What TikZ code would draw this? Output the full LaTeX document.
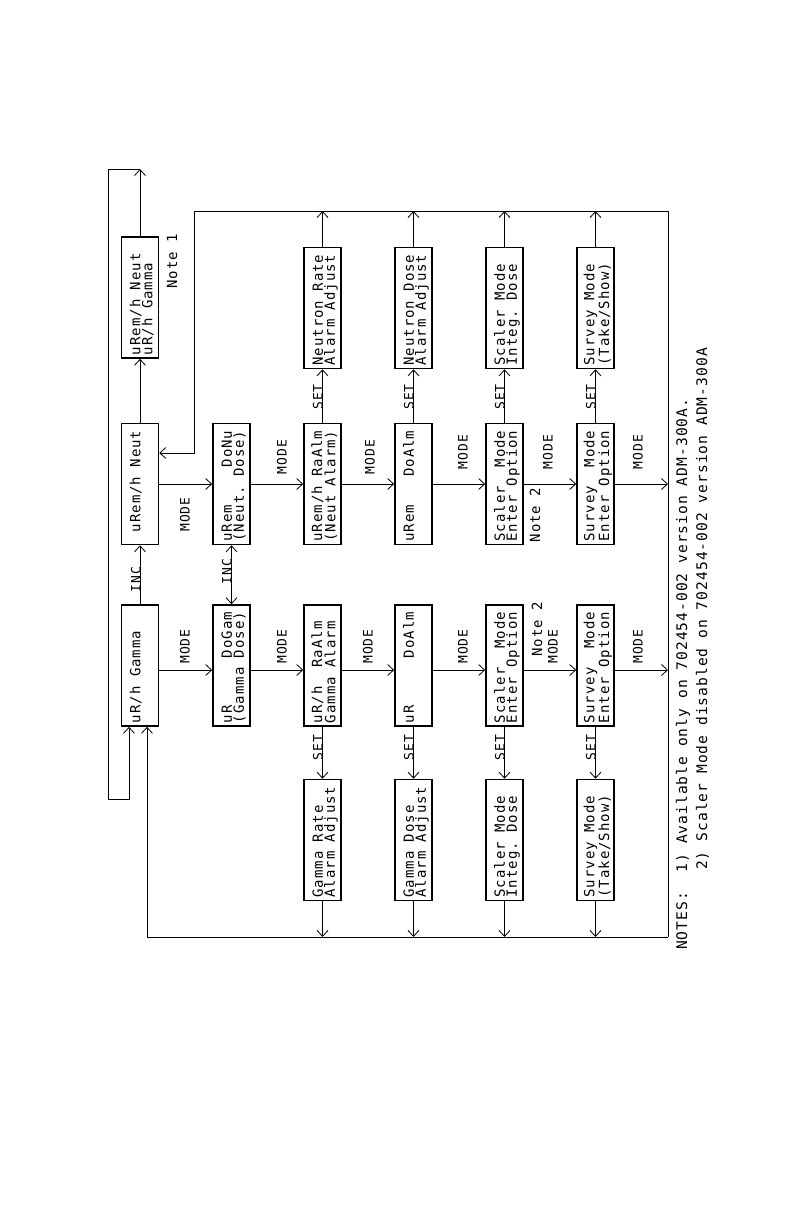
\documentclass[tikz,border=0pt]{standalone}
\usepackage{fontspec}
\newfontfamily\dmono[LetterSpace=7]{DejaVu Sans Mono}
\usetikzlibrary{arrows.meta}
\newcommand\lsa{\rule{0pt}{16.5pt}}
\newcommand\lsb{\rule[-4pt]{0pt}{4pt}}
\newcommand\sk{\kern0.672em\relax}
\newcommand\dl[2]{\lineskiplimit=-50pt\relax\lsa #1\\\lsb #2}
\newcommand\setws{\fontdimen2\font=0.672em\fontdimen3\font=0pt\fontdimen4\font=0pt\relax}
\begin{document}
\begin{tikzpicture}[x=1pt,y=1pt,
  dbox/.style={draw, line width=1.6pt, rotate=90, minimum width=121pt, minimum height=37pt, inner sep=0pt, text width=115pt, align=left, font=\dmono\fontsize{14}{12}\selectfont\setws},
  conn/.style={line width=0.8pt},
  arr/.style={conn, -{Straight Barb[length=6pt,width=11pt]}},
  darr/.style={conn, {Straight Barb[length=6pt,width=11pt]}-{Straight Barb[length=6pt,width=11pt]}},
  lab/.style={rotate=90, inner sep=0pt, font=\dmono\fontsize{13}{13}\selectfont\setws},
  notelab/.style={rotate=90, inner sep=0pt, font=\dmono\fontsize{14}{14}\selectfont\setws},
  ftn/.style={rotate=90, inner sep=0pt, anchor=base west, font=\dmono\fontsize{14.6}{14.6}\selectfont\setws},
]
\fill[white] (0,0) rectangle (792,-1224);
\useasboundingbox (0,0) rectangle (792,-1224);

% boxes
\node[dbox] (T1) at (140,-297.5) {\dl{uRem/h\sk Neut}{uR/h\sk Gamma}};
\node[dbox] (N1) at (140,-484) {\dl{\sk uRem/h\sk Neut}{}};
\node[dbox] (G1) at (140,-665.5) {\dl{uR/h\sk Gamma}{}};
\node[dbox] (N2) at (231.5,-484) {\dl{uRem\sk\sk\sk\sk DoNu}{(Neut.\sk Dose)}};
\node[dbox] (G2) at (231.5,-665.5) {\dl{uR\sk\sk\sk\sk\sk DoGam}{(Gamma\sk Dose)}};
\node[dbox] (N3) at (322.5,-484) {\dl{uRem/h\sk RaAlm}{(Neut\sk Alarm)}};
\node[dbox] (G3) at (322.5,-665.5) {\dl{uR/h\sk\sk RaAlm}{Gamma\sk Alarm}};
\node[dbox] (N4) at (413.5,-484) {\dl{uRem\sk\sk\sk DoAlm}{}};
\node[dbox] (G4) at (413.5,-665.5) {\dl{uR\sk\sk\sk\sk\sk DoAlm}{}};
\node[dbox] (N5) at (504.5,-484) {\dl{Scaler\sk\sk Mode}{Enter\sk Option}};
\node[dbox] (G5) at (504.5,-665.5) {\dl{Scaler\sk\sk Mode}{Enter\sk Option}};
\node[dbox] (N6) at (595.5,-484) {\dl{Survey\sk\sk Mode}{Enter\sk Option}};
\node[dbox] (G6) at (595.5,-665.5) {\dl{Survey\sk\sk Mode}{Enter\sk Option}};
\node[dbox] (NA3) at (322.5,-308) {\dl{Neutron\sk Rate}{Alarm\sk Adjust}};
\node[dbox] (NA4) at (413.5,-308) {\dl{Neutron\sk Dose}{Alarm\sk Adjust}};
\node[dbox] (NA5) at (504.5,-308) {\dl{Scaler\sk Mode}{Integ.\sk Dose}};
\node[dbox] (NA6) at (595.5,-308) {\dl{Survey\sk Mode}{(Take/Show)}};
\node[dbox] (GA3) at (322.5,-840) {\dl{Gamma\sk Rate}{Alarm\sk Adjust}};
\node[dbox] (GA4) at (413.5,-840) {\dl{Gamma\sk Dose}{Alarm\sk Adjust}};
\node[dbox] (GA5) at (504.5,-840) {\dl{Scaler\sk Mode}{Integ.\sk Dose}};
\node[dbox] (GA6) at (595.5,-840) {\dl{Survey\sk Mode}{(Take/Show)}};

% helper coordinates
\coordinate (gy) at (0,-670);
\coordinate (ny) at (0,-484);
\coordinate (tr) at (668,-211);
\coordinate (br) at (668,-937);
\coordinate (tl) at (194,-211);
\coordinate (tl2) at (194,-453);
\coordinate (bl) at (147,-937);
\coordinate (c1) at (140,-169);
\coordinate (lt) at (108,-169);
\coordinate (lb) at (108,-799);
\coordinate (lr) at (129,-799);

% connectors
\draw[arr] (G1.east) -- (N1.west);
\draw[arr] (N1.east) -- (T1.west);
\draw[arr] (T1.east) -- (c1);
\draw[arr] (c1) -- (lt) -- (lb) -- (lr) -- (lr |- G1.west);
\draw[conn] (tr) -- (br);
\draw[arr] (br) -- (bl) -- (bl |- G1.west);
\draw[arr] (tr) -- (tl) -- (tl2) -- (N1.south |- tl2);
\foreach \a/\b in {G1/G2,G2/G3,G3/G4,G4/G5,G5/G6}
  \draw[arr] (\a.south |- gy) -- (\b.north |- gy);
\draw[arr] (G6.south |- gy) -- (br |- gy);
\foreach \a/\b in {N1/N2,N2/N3,N3/N4,N4/N5,N5/N6}
  \draw[arr] (\a.south |- ny) -- (\b.north |- ny);
\draw[arr] (N6.south |- ny) -- (tr |- ny);
\draw[darr] (N2.west) -- (G2.east);
\foreach \i in {3,4,5,6} {
  \draw[arr] (G\i.west) -- (GA\i.east);
  \draw[arr] (GA\i.west) -- (GA\i.west |- br);
  \draw[arr] (N\i.east) -- (NA\i.west);
  \draw[arr] (NA\i.east) -- (NA\i.east |- tr);
}

% labels
\node[lab] (ginc) at (136,-579.5) {INC};
\node[lab] (ninc) at (227,-571.5) {INC};
\node[lab] (gm1) at (185,-646.5) {MODE};
\node[lab] (gm2) at (282,-646.5) {MODE};
\node[lab] (gm3) at (368,-646.5) {MODE};
\node[lab] (gm4) at (463,-646.5) {MODE};
\node[lab] (gm5) at (553,-646.5) {MODE};
\node[lab] (gm6) at (638,-646.5) {MODE};
\node[lab] (nm1) at (185,-514.5) {MODE};
\node[lab] (nm2) at (282,-457) {MODE};
\node[lab] (nm3) at (370,-457) {MODE};
\node[lab] (nm4) at (463,-452) {MODE};
\node[lab] (nm5) at (548,-452) {MODE};
\node[lab] (nm6) at (638,-452) {MODE};
\foreach \i/\x in {3/318,4/409,5/500,6/591} {
  \node[lab] (gs\i) at (\x,-747.5) {SET};
  \node[lab] (ns\i) at (\x,-397) {SET};
}
\node[notelab] (note1) at (172,-261.5) {Note 1};
\node[notelab] (gnote2) at (537,-629.5) {Note 2};
\node[notelab] (nnote2) at (535,-515) {Note 2};

% footnotes
\node[ftn] (fn1) at (687,-950) {NOTES:~~1)~Available only on 702454-002 version ADM-300A.};
\node[ftn] (fn2) at (707,-870) {2)~Scaler Mode disabled on 702454-002 version ADM-300A};
\end{tikzpicture}
\end{document}
